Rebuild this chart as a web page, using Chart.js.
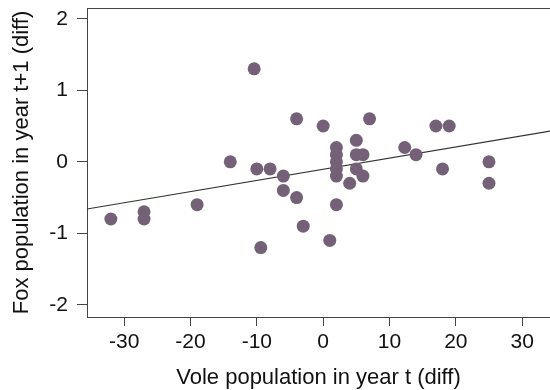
<!DOCTYPE html>
<html>
<head>
<meta charset="utf-8">
<script src="https://cdn.jsdelivr.net/npm/chart.js@4/dist/chart.umd.min.js"></script>
<style>
  html, body { margin: 0; padding: 0; background: #fff; }
  #wrap { width: 550px; height: 390px; }
</style>
</head>
<body>
<div id="wrap"><canvas id="chart" width="550" height="390"></canvas></div>
<script>
// vole change (x) vs fox change next year (y)
const voleDiff = [-32, -27, -27, -19, -14, -10.4, -10, -8, -9.4, -6, -6, -4, -4, -3, 0, 1,
  2, 2, 2, 2, 2, 2, 4, 5, 5, 5, 6, 6, 7, 12.3, 14, 17, 19, 18, 25, 25];
const foxDiff = [-0.8, -0.7, -0.8, -0.6, 0, 1.3, -0.1, -0.1, -1.2, -0.2, -0.4, 0.6, -0.5, -0.9, 0.5, -1.1,
  0.2, 0.1, 0, -0.1, -0.2, -0.6, -0.3, 0.3, 0.1, -0.1, 0.1, -0.2, 0.6, 0.2, 0.1, 0.5, 0.5, -0.1, 0, -0.3];

// fitted line end points
const fitX = [-35.6, 34.2];
const fitY = [-0.66, 0.43];

const xTicks = [-30, -20, -10, 0, 10, 20, 30];
const yTicks = [-2, -1, 0, 1, 2];

const axisColor = '#444';
const font = 'Liberation Sans, Arial, sans-serif';

const topLine = {
  id: 'topLine',
  afterDraw(chart) {
    const { ctx, chartArea } = chart;
    ctx.save();
    ctx.strokeStyle = axisColor;
    ctx.lineWidth = 1;
    ctx.beginPath();
    ctx.moveTo(chartArea.left, chartArea.top + 0.5);
    ctx.lineTo(chartArea.right, chartArea.top + 0.5);
    ctx.stroke();
    ctx.restore();
  }
};

// no extra room for tick label overflow
const noPad = s => { s.paddingTop = 0; s.paddingBottom = 0; s.paddingLeft = 0; s.paddingRight = 0; };

const ctx = document.getElementById('chart').getContext('2d');
new Chart(ctx, {
  type: 'scatter',
  data: {
    datasets: [
      {
        data: voleDiff.map((v, i) => ({ x: v, y: foxDiff[i] })),
        backgroundColor: 'rgb(116, 97, 120)',
        borderWidth: 0,
        pointRadius: 6.5,
        pointHoverRadius: 6.5
      },
      {
        type: 'line',
        data: fitX.map((v, i) => ({ x: v, y: fitY[i] })),
        borderColor: '#333',
        borderWidth: 1.2,
        pointRadius: 0,
        fill: false
      }
    ]
  },
  options: {
    responsive: false,
    animation: false,
    layout: { autoPadding: false, padding: { top: 8, right: 0, left: 0, bottom: 0 } },
    plugins: { legend: { display: false }, tooltip: { enabled: false } },
    scales: {
      x: {
        type: 'linear',
        min: -35.6,
        max: 34.2,
        afterBuildTicks: s => { s.ticks = xTicks.map(v => ({ value: v })); },
        afterFit: s => { s.height = 73; noPad(s); },
        border: { display: true, color: axisColor, width: 1 },
        grid: { drawOnChartArea: false, drawTicks: true, tickLength: 9, color: axisColor },
        ticks: { color: '#111', font: { family: font, size: 21 }, padding: 4, maxRotation: 0 },
        title: {
          display: true,
          text: 'Vole population in year t (diff)',
          color: '#111',
          font: { family: font, size: 22, lineHeight: 1 },
          padding: { top: 0, bottom: 1 }
        }
      },
      y: {
        type: 'linear',
        min: -2.17,
        max: 2.15,
        afterBuildTicks: s => { s.ticks = yTicks.map(v => ({ value: v })); },
        afterFit: s => { s.width = 87; noPad(s); },
        border: { display: true, color: axisColor, width: 1 },
        grid: { drawOnChartArea: false, drawTicks: true, tickLength: 10, color: axisColor },
        ticks: { color: '#111', font: { family: font, size: 21 }, padding: 9 },
        title: {
          display: true,
          text: 'Fox population in year t+1 (diff)',
          color: '#111',
          font: { family: font, size: 22, lineHeight: 1 },
          padding: { top: 11, bottom: 0 }
        }
      }
    }
  },
  plugins: [topLine]
});
</script>
</body>
</html>
